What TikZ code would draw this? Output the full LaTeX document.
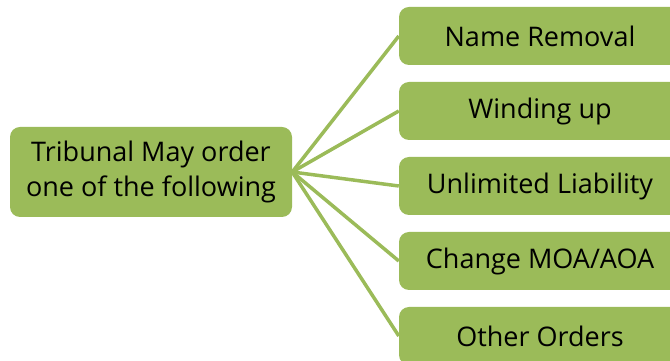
\documentclass[tikz,border=0pt]{standalone}
\usepackage{fontspec}
\setmainfont{Open Sans}
\definecolor{leaf}{HTML}{9BBB59}
\begin{document}
\begin{tikzpicture}[x=1pt,y=1pt,
  box/.style={fill=leaf, rounded corners=10pt, minimum width=282pt, inner sep=0pt, align=center, font=\fontsize{27}{35}\selectfont},
  link/.style={draw=leaf, line width=3.5pt}]
\useasboundingbox (0,0) rectangle (670,361);
\clip (0,0) rectangle (670,361);
\node[box, minimum height=90pt] (a) at (151,189) {Tribunal May order\\one of the following};
\node[box, minimum height=58pt] (b1) at (540,325) {Name Removal};
\node[box, minimum height=58pt] (b2) at (540,250) {Winding up};
\node[box, minimum height=58pt] (b3) at (540,175) {Unlimited Liability};
\node[box, minimum height=58pt] (b4) at (540,100) {Change MOA/AOA};
\node[box, minimum height=58pt] (b5) at (540,25) {Other Orders};
\foreach \i in {1,...,5} \draw[link] (a.east) -- (b\i.west);
\end{tikzpicture}
\end{document}
